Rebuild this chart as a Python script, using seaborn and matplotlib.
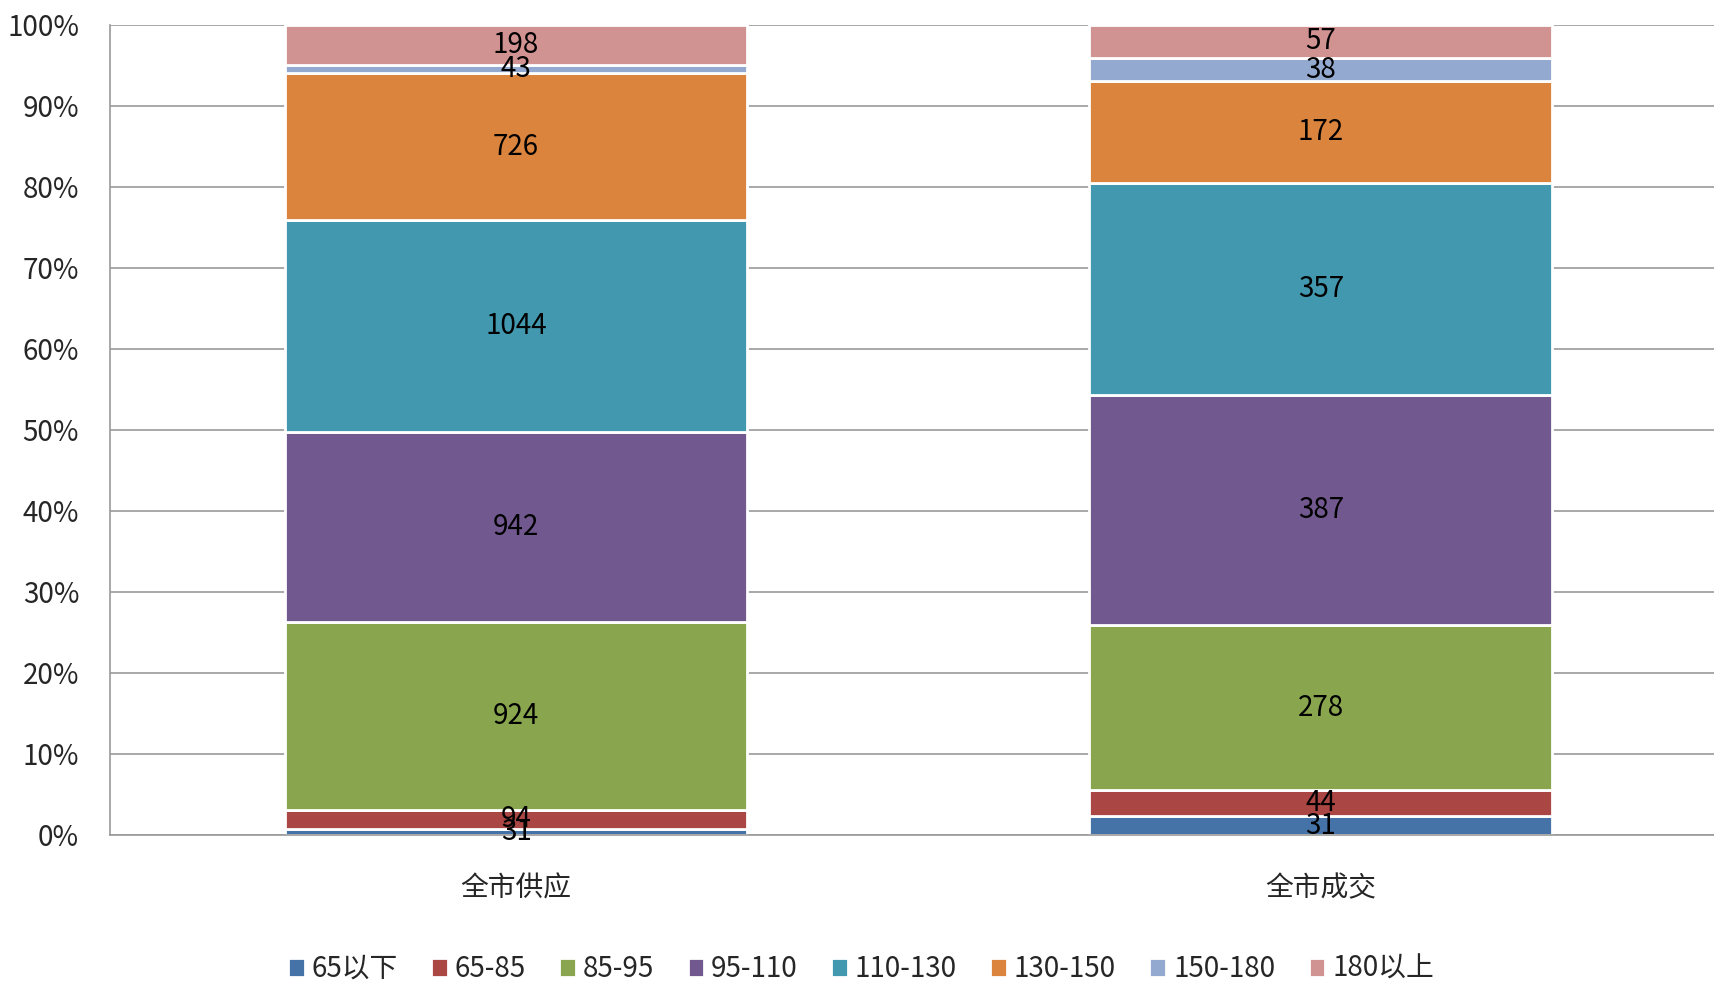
import numpy as np
import pandas as pd
import matplotlib.pyplot as plt
import seaborn as sns

categories = ['全市供应', '全市成交']
series = ['65以下', '65-85', '85-95', '95-110', '110-130', '130-150', '150-180', '180以上']
supply = [31, 94, 924, 942, 1044, 726, 43, 198]
deal = [31, 44, 278, 387, 357, 172, 38, 57]
colors = ['#4572A7', '#AA4643', '#89A54E', '#71588F', '#4198AF', '#DB843D', '#93A9CF', '#D19392']

df = pd.DataFrame({'区间': series, '全市供应': supply, '全市成交': deal})
long = df.melt(id_vars='区间', var_name='类别', value_name='套数')
long['占比'] = long['套数'] / long.groupby('类别')['套数'].transform('sum')

sns.set_style('white')
plt.rcParams['font.family'] = ['Noto Sans CJK SC', 'DejaVu Sans']

fig, ax = plt.subplots(figsize=(17.15, 9.81), dpi=100)
fig.subplots_adjust(left=0.064, right=1.0, top=0.975, bottom=0.149)

# gridlines
ax.set_axisbelow(True)
ax.yaxis.grid(True, color='#9a9a9a', linewidth=1.2)

bottom = np.zeros(len(categories))
for s, c in zip(series, colors):
    part = long[long['区间'] == s].set_index('类别').loc[categories].reset_index()
    sns.barplot(data=part, x='类别', y='占比', order=categories, color=c, width=0.575,
                saturation=1, bottom=bottom, edgecolor='white', linewidth=2, ax=ax, label=s)
    ax.bar_label(ax.containers[-1], labels=[str(v) for v in part['套数']],
                 label_type='center', fontsize=20, color='black')
    bottom = bottom + part['占比'].values

ax.set_ylim(0, 1)
ax.set_xlim(-0.505, 1.49)
ax.set_yticks(np.arange(0, 1.01, 0.1))
ax.set_yticklabels([f'{int(round(v * 100))}%' for v in np.arange(0, 1.01, 0.1)], fontsize=20)
ax.tick_params(axis='x', labelsize=20, pad=28, length=0)
ax.tick_params(axis='y', length=0, pad=22)
ax.set_xlabel('')
ax.set_ylabel('')

for side in ['top', 'right']:
    ax.spines[side].set_visible(False)
for side in ['left', 'bottom']:
    ax.spines[side].set_color('#9a9a9a')
    ax.spines[side].set_linewidth(1.2)

handles, labels = ax.get_legend_handles_labels()
ax.legend(handles, labels, loc='lower center', bbox_to_anchor=(0.5 - 0.032, -0.215),
          bbox_transform=ax.transAxes, ncol=8, frameon=False, fontsize=20,
          handlelength=0.6, handleheight=0.7, handletextpad=0.25, columnspacing=1.2)

fig.savefig('out.png', dpi=100)
